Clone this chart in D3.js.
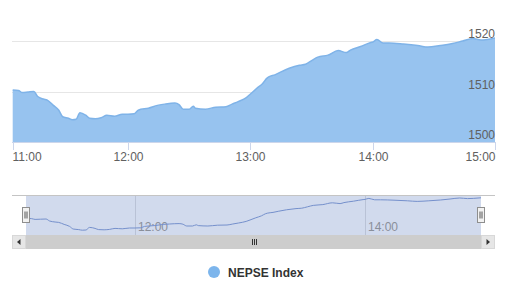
<!DOCTYPE html>
<html>
<head>
<meta charset="utf-8">
<script src="https://cdn.jsdelivr.net/npm/d3@7"></script>
<style>
  body { margin: 0; background: #fff; }
  svg { display: block; font-family: "Liberation Sans", Arial, sans-serif; }
</style>
</head>
<body>
<div id="chart"></div>
<script>
// NEPSE index, minutes after 11:00 and index value
var minutes = [0, 3, 5, 8, 11, 13, 16, 18, 21, 24, 26, 29, 31, 33, 35, 38, 40, 43, 46, 49, 53, 57, 60,
  63, 65, 70, 75, 78, 83, 85, 87, 90, 92, 93, 98, 103, 108, 111, 114, 118,
  120, 123, 126, 128, 129, 132, 135, 139, 144, 147, 150, 153, 158, 163, 167, 169, 174, 179,
  180, 182, 185, 188, 195, 202, 207, 213, 219, 224, 229, 233, 236, 240];
var values = [1510.3, 1510.2, 1509.8, 1509.9, 1510.0, 1509.0, 1508.5, 1508.3, 1507.3, 1506.3, 1505.0, 1504.7, 1504.4, 1504.5, 1505.8, 1505.3, 1504.7, 1504.6, 1504.8, 1505.3, 1505.1, 1505.5, 1505.5,
  1505.6, 1506.3, 1506.7, 1507.3, 1507.5, 1507.7, 1507.4, 1506.5, 1506.5, 1507.1, 1506.7, 1506.5, 1506.9, 1507.0, 1507.5, 1508.0, 1508.8,
  1509.5, 1510.6, 1511.6, 1512.6, 1512.9, 1513.3, 1513.9, 1514.6, 1515.2, 1515.4, 1516.1, 1516.8, 1517.2, 1518.1, 1517.7, 1518.2, 1518.9, 1519.7,
  1519.8, 1520.3, 1519.6, 1519.6, 1519.4, 1519.1, 1518.8, 1519.1, 1519.5, 1520.0, 1520.5, 1520.2, 1520.3, 1520.6];
var hourTicks = ["11:00", "12:00", "13:00", "14:00", "15:00"];
var navTicks = ["12:00", "14:00"];
var yTicks = [1500, 1510, 1520];
var seriesName = "NEPSE Index";

var W = 513, H = 284;
var parse = d3.timeParse("%H:%M");
var fmt = d3.timeFormat("%H:%M");
var t0 = parse("11:00");
var data = minutes.map(function(m, i){
  return { t: d3.timeMinute.offset(t0, m), v: values[i] };
});

var svg = d3.select("#chart").append("svg")
  .attr("width", W).attr("height", H);

// main chart
/////////////////////////////////////
var plotTop = 25, plotBottom = 142, plotLeft = 12, plotRight = 495;

// ordinal-like axis: first hour is slightly compressed
var x = d3.scaleTime()
  .domain([parse("11:00"), parse("12:00"), parse("15:00")])
  .range([12.7, 128, 495.3]);
var y = d3.scaleLinear().domain([1500, 1522]).range([plotBottom, plotBottom - 22 * 5.05]);

svg.append("clipPath").attr("id", "clip")
  .append("rect").attr("x", plotLeft).attr("y", plotTop)
  .attr("width", plotRight - plotLeft).attr("height", plotBottom - plotTop);

// grid
svg.append("g").selectAll("line").data(yTicks.slice(1)).join("line")
  .attr("x1", plotLeft).attr("x2", plotRight)
  .attr("y1", function(d){ return Math.round(y(d)) + 0.5; })
  .attr("y2", function(d){ return Math.round(y(d)) + 0.5; })
  .attr("stroke", "#e6e6e6").attr("stroke-width", 1);

var area = d3.area()
  .x(function(d){ return x(d.t); })
  .y0(plotBottom)
  .y1(function(d){ return y(d.v); })
  .curve(d3.curveMonotoneX);
var line = d3.line()
  .x(function(d){ return x(d.t); })
  .y(function(d){ return y(d.v); })
  .curve(d3.curveMonotoneX);

var g = svg.append("g").attr("clip-path", "url(#clip)");
g.append("path").datum(data).attr("d", area).attr("fill", "#97c3ef");
g.append("path").datum(data).attr("d", line)
  .attr("fill", "none").attr("stroke", "#7fb3e8").attr("stroke-width", 1.5);

// x axis
var xAxis = svg.append("g").attr("transform", "translate(0," + plotBottom + ")");
xAxis.append("line").attr("x1", plotLeft).attr("x2", plotRight)
  .attr("y1", 0.5).attr("y2", 0.5).attr("stroke", "#ccd6eb");
var xt = xAxis.selectAll("g.tick").data(hourTicks.map(parse)).join("g")
  .attr("class", "tick")
  .attr("transform", function(d){ return "translate(" + (Math.round(x(d)) + 0.5) + ",0)"; });
xt.append("line").attr("y1", 0).attr("y2", 8).attr("stroke", "#ccd6eb");
xt.append("text")
  .attr("y", 19)
  .attr("text-anchor", function(d, i){ return i === 0 ? "start" : (i === hourTicks.length - 1 ? "end" : "middle"); })
  .attr("x", function(d, i){ return i === 0 ? -1 : 0; })
  .attr("font-size", 12).attr("fill", "#606060")
  .text(function(d){ return fmt(d); });

// y axis labels (inside, right)
svg.append("g").selectAll("text").data(yTicks).join("text")
  .attr("x", 495).attr("y", function(d){ return y(d) - 3; })
  .attr("text-anchor", "end").attr("font-size", 12).attr("fill", "#606060")
  .text(function(d){ return d; });

// navigator
/////////////////////////////////////
var navTop = 195, navBottom = 235, navLeft = 12, navRight = 495;
var selL = 26, selR = 481;
var nx = d3.scaleTime()
  .domain([parse("11:00"), parse("12:00"), parse("14:00"), parse("15:00")])
  .range([selL, 135, 365, selR]);
var ny = d3.scaleLinear().domain([1502, 1522]).range([navBottom, navTop]);

var nav = svg.append("g");
nav.append("rect").attr("x", selL).attr("y", navTop)
  .attr("width", selR - selL).attr("height", navBottom - navTop)
  .attr("fill", "rgba(102,133,194,0.3)");

nav.selectAll("line.grid").data(navTicks.map(parse)).join("line")
  .attr("class", "grid")
  .attr("x1", function(d){ return Math.round(nx(d)) + 0.5; })
  .attr("x2", function(d){ return Math.round(nx(d)) + 0.5; })
  .attr("y1", navTop).attr("y2", navBottom)
  .attr("stroke", "#b9c2d6").attr("stroke-width", 1);

nav.selectAll("text").data(navTicks.map(parse)).join("text")
  .attr("x", function(d){ return nx(d) + 3; })
  .attr("y", navBottom - 4)
  .attr("font-size", 12).attr("fill", "#8a8f9a")
  .text(function(d){ return fmt(d); });

nav.append("path").datum(data)
  .attr("d", d3.line()
    .x(function(d){ return nx(d.t); })
    .y(function(d){ return ny(d.v); })
    .curve(d3.curveMonotoneX))
  .attr("fill", "none").attr("stroke", "#7590cc").attr("stroke-width", 1);

nav.append("line").attr("x1", navLeft).attr("x2", navRight)
  .attr("y1", navTop + 0.5).attr("y2", navTop + 0.5)
  .attr("stroke", "#c4c4c4");

// scrollbar
var sbTop = navBottom, sbH = 14;
nav.append("rect").attr("x", navLeft).attr("y", sbTop)
  .attr("width", navRight - navLeft).attr("height", sbH).attr("fill", "#eeeeee");
nav.append("rect").attr("x", selL).attr("y", sbTop)
  .attr("width", selR - selL).attr("height", sbH).attr("fill", "#cdcdcd");
// grip
[-2, 0, 2].forEach(function(o){
  var cx = Math.round((selL + selR) / 2) + o + 0.5;
  nav.append("line").attr("x1", cx).attr("x2", cx)
    .attr("y1", sbTop + 4).attr("y2", sbTop + 10)
    .attr("stroke", "#333").attr("stroke-width", 1);
});
// buttons
[[navLeft, -1], [selR, 1]].forEach(function(b){
  nav.append("rect").attr("x", b[0] + 0.5).attr("y", sbTop + 0.5)
    .attr("width", selL - navLeft - 1).attr("height", sbH - 1)
    .attr("fill", "#e6e6e6").attr("stroke", "#d8d8d8");
  var cx = b[0] + (selL - navLeft) / 2, cy = sbTop + sbH / 2;
  nav.append("path")
    .attr("d", "M" + (cx + b[1] * 2) + "," + cy + "L" + (cx - b[1] * 1.5) + "," + (cy - 3) + "L" + (cx - b[1] * 1.5) + "," + (cy + 3) + "Z")
    .attr("fill", "#333");
});

// handles
[selL, selR].forEach(function(hx){
  var hg = nav.append("g").attr("transform", "translate(" + (Math.round(hx) - 3.5) + ",207.5)");
  hg.append("rect").attr("width", 7).attr("height", 15)
    .attr("fill", "#f2f2f2").attr("stroke", "#8e8e8e");
  [2.5, 4.5].forEach(function(lx){
    hg.append("line").attr("x1", lx).attr("x2", lx).attr("y1", 4).attr("y2", 11)
      .attr("stroke", "#555");
  });
});

// legend
/////////////////////////////////////
var legend = svg.append("g").attr("transform", "translate(214,272)");
legend.append("circle").attr("r", 6).attr("fill", "#7cb5ec");
legend.append("text").attr("x", 14).attr("y", 4.5)
  .attr("font-size", 12).attr("font-weight", "bold").attr("fill", "#333333")
  .text(seriesName);
</script>
</body>
</html>
